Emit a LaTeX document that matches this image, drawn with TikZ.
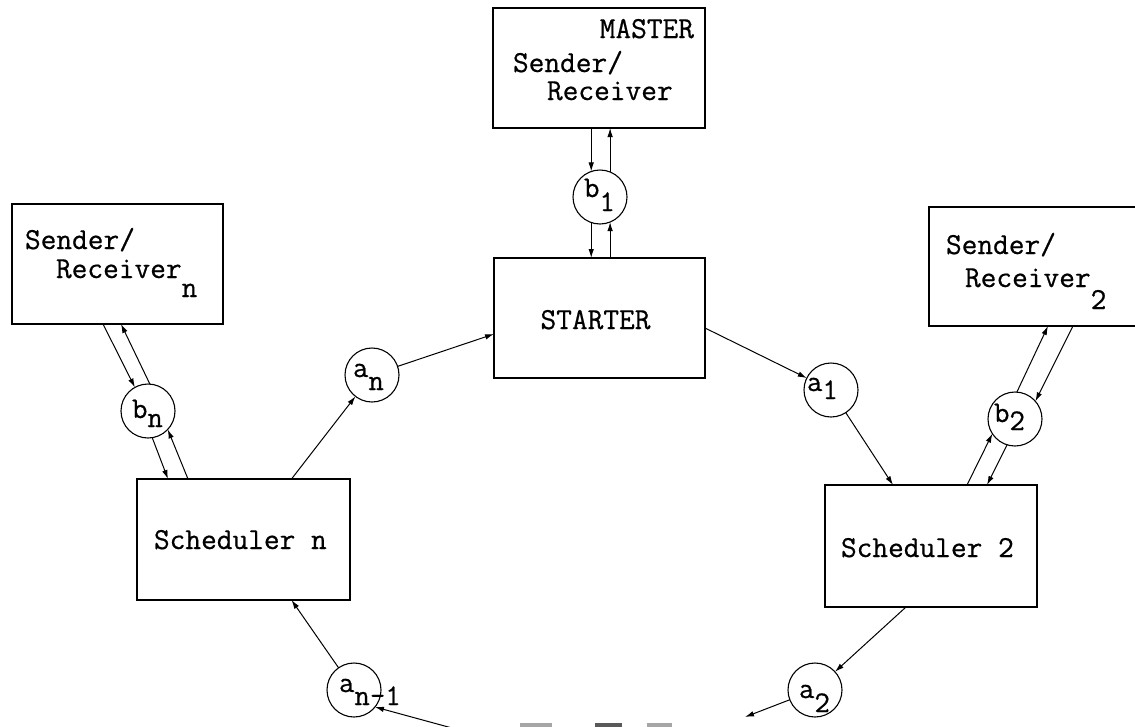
\documentclass[tikz,border=0pt]{standalone}
\usepackage{fontspec}
\newfontfamily\scanfont[FakeBold=0.6]{Latin Modern Mono}
\usetikzlibrary{arrows.meta}
\newcommand{\lowr}[2]{\raisebox{-#1}{#2}}
\begin{document}
\begin{tikzpicture}[x=1pt,y=-1pt,
  box/.style={draw, rectangle, line width=1.5pt, inner sep=0pt, outer sep=0pt},
  ring/.style={draw, circle, line width=1.1pt, minimum size=54pt, inner sep=0pt, outer sep=0pt},
  txt/.style={font=\scanfont\fontsize{30.5}{36}\selectfont, inner sep=0pt, outer sep=0pt},
  lbl/.style={font=\scanfont\fontsize{30}{34}\selectfont, inner sep=0pt, outer sep=0pt},
  arr/.style={line width=1pt, -{Latex[length=9pt,width=5.5pt]}}
]
\useasboundingbox (0,0) rectangle (1135,726);

% boxes
\node[box, minimum width=212pt, minimum height=120pt] (M)  at (599,68) {};
\node[box, minimum width=211pt, minimum height=120pt] (S)  at (599.5,318) {};
\node[box, minimum width=211pt, minimum height=120pt] (RN) at (117.5,264) {};
\node[box, minimum width=211pt, minimum height=119pt] (R2) at (1034.5,266.5) {};
\node[box, minimum width=213pt, minimum height=121pt] (SN) at (243.5,539.5) {};
\node[box, minimum width=212pt, minimum height=122pt] (S2) at (931,546) {};

% box texts
\node[txt, anchor=base east] (mt) at (694,38) {MASTER};
\node[txt, anchor=base west] (ms) at (513,72) {Sender/};
\node[txt, anchor=base west] (mr) at (547,100) {Receiver};
\node[txt, anchor=base] (st) at (595.5,329) {STARTER};
\node[txt, anchor=base west] (ns) at (25,249) {Sender/};
\node[txt, anchor=base west] (nr) at (56,278) {Receiver\lowr{19pt}{n}};
\node[txt, anchor=base west] (ts) at (946,254) {Sender/};
\node[txt, anchor=base west] (tr) at (965,287) {Receiver\lowr{22pt}{2}};
\node[txt, anchor=base west] (snt) at (154,549) {Scheduler n};
\node[txt, anchor=base west] (s2t) at (841,557) {Scheduler 2};

% circles
\node[ring] (b1)  at (600,197) {};
\node[ring] (an)  at (372,375) {};
\node[ring] (a1)  at (831,390) {};
\node[ring] (bn)  at (148,411) {};
\node[ring] (b2)  at (1015,419) {};
\node[ring] (an1) at (354,690) {};
\node[ring] (a2)  at (815,690) {};

% circle labels
\node[lbl, anchor=base west] (b1t)  at (584,197) {b\lowr{14pt}{1}};
\node[lbl, anchor=base west] (ant)  at (353,377) {a\lowr{13pt}{n}};
\node[lbl, anchor=base west] (a1t)  at (807,391) {a\lowr{8pt}{1}};
\node[lbl, anchor=base west] (bnt)  at (132,418) {b\lowr{9pt}{n}};
\node[lbl, anchor=base west] (b2t)  at (994,422) {b\lowr{8pt}{2}};
\node[lbl, anchor=base west] (an1t) at (339,692) {a\lowr{13pt}{n-1}};
\node[lbl, anchor=base west] (a2t)  at (799,698) {a\lowr{14pt}{2}};

% free ends
\coordinate (e1) at (452,728);
\coordinate (e2) at (745,717);

% MASTER <-> b1 <-> STARTER
\draw[arr] (b1.109 |- M.south) -- (b1.109);
\draw[arr] (b1.251) -- (b1.251 |- S.north);
\draw[arr] (b1.292 |- S.north) -- (b1.292);
\draw[arr] (b1.68) -- (b1.68 |- M.south);

% ring of schedulers
\draw[arr] (an) -- ([yshift=-16pt]S.west);
\draw[arr] ([xshift=48pt]SN.north) -- (an);
\draw[arr] ([yshift=-10pt]S.east) -- (a1);
\draw[arr] (a1) -- ([xshift=-38pt]S2.north);
\draw[arr] ([xshift=-25pt]S2.south) -- (a2);
\draw[arr] (a2) -- (e2);
\draw[arr] (e1) -- (an1.-39);
\draw[arr] (an1) -- ([xshift=48pt]SN.south);

% Sender/Receiver n <-> bn <-> Scheduler n
\draw[arr] ([xshift=-14.5pt]RN.south) -- (bn.119);
\draw[arr] (bn.86) -- ([xshift=3.5pt]RN.south);
\draw[arr] (bn.279) -- ([xshift=-75.5pt]SN.north);
\draw[arr] ([xshift=-55.5pt]SN.north) -- (bn.-43);

% Sender/Receiver 2 <-> b2 <-> Scheduler 2
\draw[arr] (b2.86) -- ([xshift=13.5pt]R2.south);
\draw[arr] ([xshift=38.5pt]R2.south) -- (b2.41);
\draw[arr] ([xshift=36pt]S2.north) -- (b2.213);
\draw[arr] (b2.253) -- ([xshift=56pt]S2.north);

% cut-off marks at the bottom edge
\fill[black!35] (520,723) rectangle (552,728);
\fill[black!65] (595,723) rectangle (622,728);
\fill[black!35] (647,723) rectangle (672,728);
\end{tikzpicture}
\end{document}
